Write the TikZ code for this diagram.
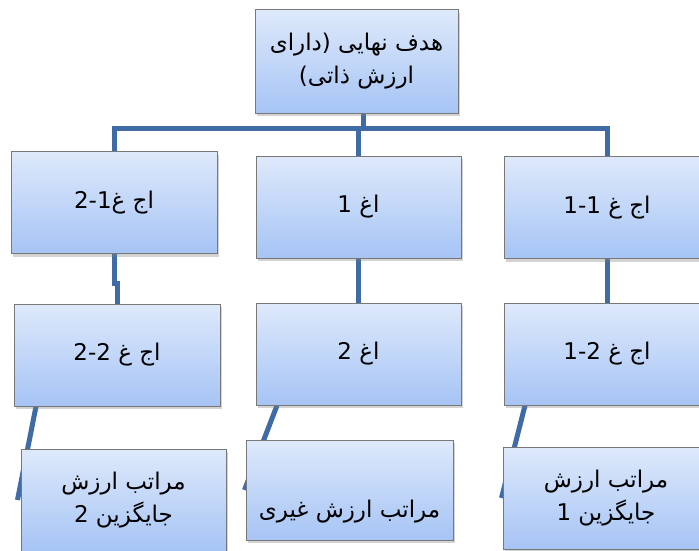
\documentclass[tikz,border=0pt]{standalone}
\usepackage{fontspec}
\usepackage{tikz}
\usetikzlibrary{shadows,backgrounds}
\newfontfamily\arabicfont[Script=Arabic]{DejaVu Sans}
\TeXXeTstate=1
\definecolor{boxtop}{RGB}{222,233,251}
\definecolor{boxbot}{RGB}{166,196,245}
\definecolor{boxline}{RGB}{120,120,120}
\definecolor{linkblue}{RGB}{63,108,166}

\begin{document}
\begin{tikzpicture}[x=1pt,y=-1pt,
    lbl/.style={font=\arabicfont\fontsize{23}{33}\selectfont,align=center},
    box/.style={lbl,rectangle,draw=boxline,line width=1pt,
      top color=boxtop,bottom color=boxbot,
      minimum width=206pt,minimum height=102pt,inner sep=2pt,
      drop shadow={opacity=0.35,shadow xshift=2pt,shadow yshift=-3pt}},
    link/.style={draw=linkblue,line width=5pt}]

  \useasboundingbox (0,0) rectangle (699,551);
  \clip (0,0) rectangle (699,551);

  \node[box,minimum width=203pt,minimum height=103pt] (goal) at (356.5,61.5)
    {\beginR هدف نهایی (دارای\endR\\\beginR ارزش ذاتی)\endR};

  \node[box] (lvl21) at (114,202.5) {\beginR اج غ\beginL 2-1\endL{}\endR};
  \node[box,minimum width=205pt] (lvl1) at (358.5,207) {\beginR اغ \beginL 1\endL{}\endR};
  \node[box] (lvl11) at (607,207.5) {\beginR اج غ \beginL 1-1\endL{}\endR};

  \node[box] (lvl22) at (117,355) {\beginR اج غ \beginL 2-2\endL{}\endR};
  \node[box,minimum width=205pt] (lvl2) at (358.5,354) {\beginR اغ \beginL 2\endL{}\endR};
  \node[box] (lvl12) at (607,354) {\beginR اج غ \beginL 1-2\endL{}\endR};

  \node[box,minimum width=205pt] (alt2) at (123.5,500)
    {\beginR مراتب ارزش\endR\\\beginR جایگزین \beginL 2\endL{}\endR};
  \node[box,minimum width=207pt,minimum height=100pt] (other) at (349.5,490) {};
  \node[lbl] (othertxt) at ([yshift=-22pt]other.center) {\beginR مراتب ارزش غیری\endR};
  \node[box] (alt1) at (606,498)
    {\beginR مراتب ارزش\endR\\\beginR جایگزین \beginL 1\endL{}\endR};

  \begin{pgfonlayer}{background}
    \coordinate (bus) at (363,128);
    \draw[link] ([xshift=6.5pt]goal.south) -- (bus);
    \draw[link] (lvl21.north) |- (bus) -| (lvl11.north);
    \draw[link] (lvl1.north) -- (lvl1.north |- bus);
    \draw[link] (lvl21.south) -- ++(0,29) -| (lvl22.north);
    \draw[link] (lvl1.south) -- (lvl2.north);
    \draw[link] (lvl11.south) -- (lvl12.north);
    \draw[link] ([xshift=-81pt]lvl22.south) -- ([xshift=-3pt]alt2.west);
    \draw[link] ([xshift=-81.5pt]lvl2.south) -- ([xshift=-1pt]other.west);
    \draw[link] ([xshift=-82pt]lvl12.south) -- ([xshift=-1pt]alt1.west);
  \end{pgfonlayer}
\end{tikzpicture}
\end{document}
